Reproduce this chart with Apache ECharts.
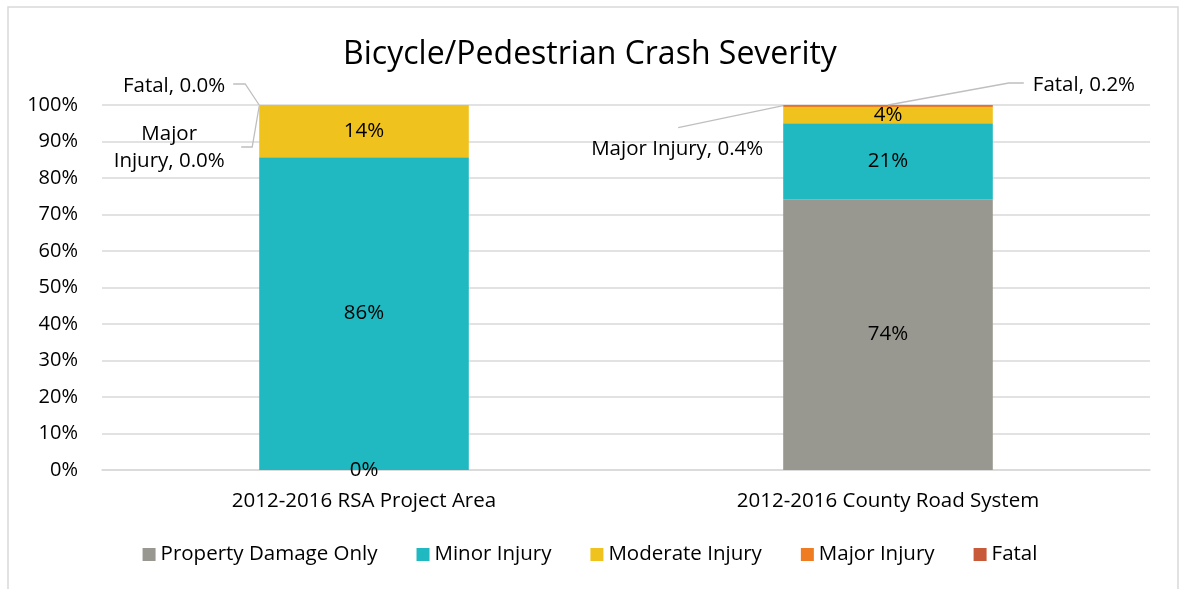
<!DOCTYPE html>
<html lang="en">
<head>
  <meta charset="UTF-8">
  <title>Bicycle/Pedestrian Crash Severity</title>
  <style>
    html, body { margin: 0; padding: 0; background: #fff; }
    #chart { width: 1180px; height: 589px; }
  </style>
</head>
<body>
  <div id="chart"></div>
  <script src="https://cdn.jsdelivr.net/npm/echarts@6/dist/echarts.min.js"></script>
  <script>
    // data (percent of crashes)
    const categories = ['2012-2016 RSA Project Area', '2012-2016 County Road System']
    const seriesNames = ['Property Damage Only', 'Minor Injury', 'Moderate Injury', 'Major Injury', 'Fatal']
    const propertyDamage = [0, 74.2]
    const minorInjury = [85.7, 20.8]
    const moderateInjury = [14.3, 4.4]
    const majorInjury = [0, 0.4]
    const fatal = [0, 0.2]
    const yTicks = [0, 10, 20, 30, 40, 50, 60, 70, 80, 90, 100]

    const colors = ['#989890', '#20b9c1', '#f0c21d', '#f07c22', '#c85a3a']
    const font = '"Open Sans", Lato, sans-serif'
    const lineColor = '#bfbfbf'
    const barShare = 0.4

    const chart = echarts.init(document.getElementById('chart'))

    function innerSeries (name, data, color) {
      return {
        name: name,
        type: 'bar',
        stack: 'total',
        data: data,
        barCategoryGap: '60%',
        itemStyle: { color: color },
        label: {
          show: true,
          position: 'inside',
          color: '#000',
          fontFamily: font,
          fontSize: 20.5,
          formatter: p => Math.round(p.value) + '%'
        }
      }
    }

    // Major Injury and Fatal carry their labels outside the bar
    const outsideLabel = {
      show: true,
      color: '#000',
      fontFamily: font,
      fontSize: 20.5,
      lineHeight: 27
    }

    const option = {
      animation: false,
      color: colors,
      title: {
        text: 'Bicycle/Pedestrian Crash Severity',
        left: 'center',
        top: 34,
        textStyle: { fontFamily: font, fontSize: 32, fontWeight: 'normal', color: '#000' }
      },
      graphic: [{
        id: 'frame',
        type: 'rect',
        shape: { x: 8, y: 7, width: 1170, height: 600 },
        style: { fill: 'none', stroke: '#d9d9d9', lineWidth: 1.5 },
        silent: true,
        z: -1
      }],
      legend: {
        data: seriesNames,
        bottom: 19,
        left: 'center',
        itemWidth: 13,
        itemHeight: 13,
        itemGap: 39,
        icon: 'rect',
        textStyle: { fontFamily: font, fontSize: 20.5, color: '#000' }
      },
      grid: { left: 102, right: 30, top: 105, bottom: 119 },
      xAxis: {
        type: 'category',
        data: categories,
        axisTick: { show: false },
        axisLine: { lineStyle: { color: '#d9d9d9', width: 1.5 } },
        axisLabel: { fontFamily: font, fontSize: 20.5, color: '#000', margin: 21 }
      },
      yAxis: {
        type: 'value',
        min: yTicks[0],
        max: yTicks[yTicks.length - 1],
        interval: 10,
        axisLine: { show: false },
        axisTick: { show: false },
        splitLine: { lineStyle: { color: '#d9d9d9', width: 1.5 } },
        axisLabel: { fontFamily: font, fontSize: 20, color: '#000', margin: 24, formatter: '{value}%' }
      },
      series: [
        innerSeries(seriesNames[0], propertyDamage, colors[0]),
        innerSeries(seriesNames[1], minorInjury, colors[1]),
        innerSeries(seriesNames[2], moderateInjury, colors[2]),
        {
          name: seriesNames[3],
          type: 'bar',
          stack: 'total',
          data: majorInjury,
          itemStyle: { color: colors[3] },
          label: Object.assign({}, outsideLabel, {
            formatter: p => (p.dataIndex === 0 ? 'Major\nInjury' : 'Major Injury') + ', ' + p.value.toFixed(1) + '%'
          }),
          labelLayout: function (p) {
            const r = p.rect
            if (p.dataIndex === 0) {
              return { x: r.x - 90, y: r.y + 43, align: 'center', verticalAlign: 'middle' }
            }
            return { x: r.x - 106, y: r.y + 43, align: 'center', verticalAlign: 'middle' }
          }
        },
        {
          name: seriesNames[4],
          type: 'bar',
          stack: 'total',
          data: fatal,
          itemStyle: { color: colors[4] },
          label: Object.assign({}, outsideLabel, {
            formatter: p => 'Fatal, ' + p.value.toFixed(1) + '%'
          }),
          labelLayout: function (p) {
            const r = p.rect
            if (p.dataIndex === 0) {
              return { x: r.x - 34, y: r.y - 19, align: 'right', verticalAlign: 'middle' }
            }
            return { x: r.x + r.width + 40, y: r.y - 20, align: 'left', verticalAlign: 'middle' }
          }
        }
      ]
    }

    chart.setOption(option)

    // leader lines, anchored on the bar tops through the chart's own scales
    function stackTop (i, upTo) {
      const stacks = [propertyDamage, minorInjury, moderateInjury, majorInjury, fatal]
      let s = 0
      for (let k = 0; k <= upTo; k++) s += stacks[k][i]
      return s
    }
    const c0 = chart.convertToPixel({ gridIndex: 0 }, [0, stackTop(0, 4)])
    const c1 = chart.convertToPixel({ gridIndex: 0 }, [1, stackTop(1, 4)])
    const halfBar = (c1[0] - c0[0]) * barShare / 2
    const left0 = c0[0] - halfBar
    const left1 = c1[0] - halfBar
    const right1 = c1[0] + halfBar
    const top0 = c0[1]
    const majorTop1 = chart.convertToPixel({ gridIndex: 0 }, [1, stackTop(1, 3)])[1]
    const leaders = [
      [[left0 - 26, top0 - 21], [left0 - 14, top0 - 21], [left0, top0]],
      [[left0 - 18, top0 + 42], [left0 - 7, top0 + 42], [left0, top0 + 1]],
      [[right1 + 31, c1[1] - 22], [right1 + 16, c1[1] - 22], [c1[0], c1[1]]],
      [[left1 - 105, majorTop1 + 22], [left1, majorTop1]]
    ]
    chart.setOption({
      graphic: leaders.map((pts, i) => ({
        id: 'leader' + i,
        type: 'polyline',
        shape: { points: pts },
        style: { stroke: lineColor, lineWidth: 1.3, fill: null },
        silent: true,
        z: 10
      }))
    })
  </script>
</body>
</html>
